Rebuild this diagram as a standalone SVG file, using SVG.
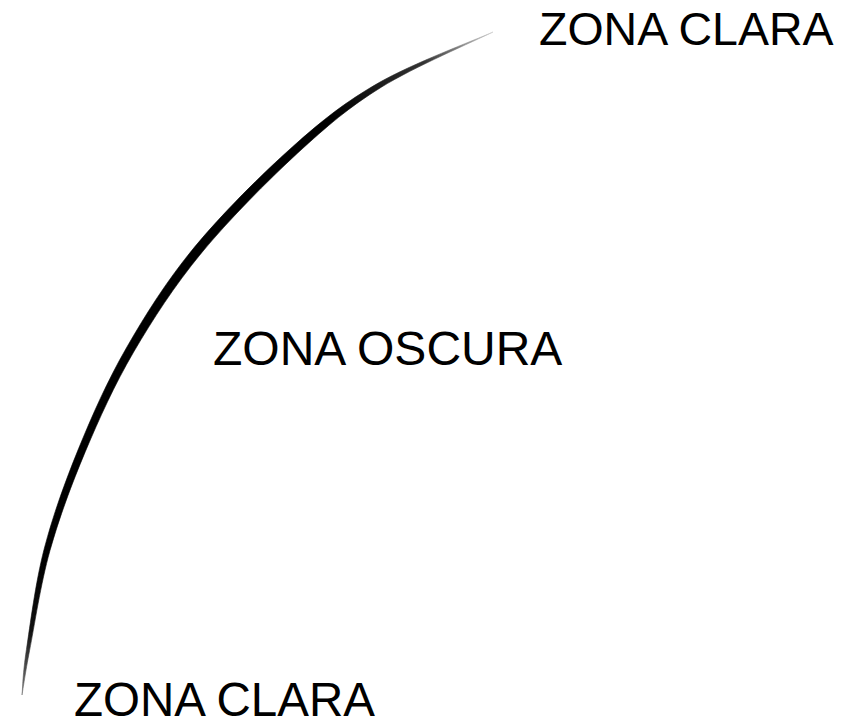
<svg xmlns="http://www.w3.org/2000/svg" width="853" height="721" viewBox="0 0 853 721">
<style>
.lbl{font-family:"Liberation Sans",Arial,sans-serif;fill:#000}
</style>
<defs>
<linearGradient id="fade" gradientUnits="userSpaceOnUse" x1="22" y1="695" x2="493" y2="32">
<stop offset="0" stop-color="#777"/>
<stop offset="0.07" stop-color="#111"/>
<stop offset="0.15" stop-color="#000"/>
<stop offset="0.8" stop-color="#000"/>
<stop offset="0.92" stop-color="#333"/>
<stop offset="1" stop-color="#ccc"/>
</linearGradient>
</defs>
<rect width="853" height="721" fill="#fff"/>
<g id="arc">
<path fill="url(#fade)" stroke="url(#fade)" stroke-width="0.6" d="M22,695 C22.7,687.5 22.7,674 26.4,649.7 C30.1,625.4 35.4,582.7 44.1,549.2 C52.8,515.7 64.9,482.2 78.6,448.6 C92.3,415.1 107.1,381.5 126.4,347.9 C145.7,314.3 166.9,280.6 194.5,247.1 C222.2,213.6 261.6,174.4 292.3,147 C323,119.6 345.3,102 378.7,82.8 C412.2,63.6 474,40.5 493,32 C474.4,41.2 413.9,67 381.3,87.2 C348.8,107.4 327.7,125.4 297.7,153 C267.7,180.6 228.9,219.7 201.5,252.9 C174.2,286.1 153,319 133.6,352.1 C114.3,385.2 99.4,418.3 85.4,451.4 C71.5,484.5 59.2,517.7 49.9,550.8 C40.6,583.9 34.3,626.3 29.6,650.3 C25,674.3 23.3,687.6 22,695 Z"/>
</g>
<g id="label-top"><text class="lbl" x="539" y="45" font-size="46.5">ZONA CLARA</text></g>
<g id="label-mid"><text class="lbl" x="213" y="365" font-size="48">ZONA OSCURA</text></g>
<g id="label-bottom"><text class="lbl" x="74" y="716" font-size="47.5">ZONA CLARA</text></g>
</svg>
